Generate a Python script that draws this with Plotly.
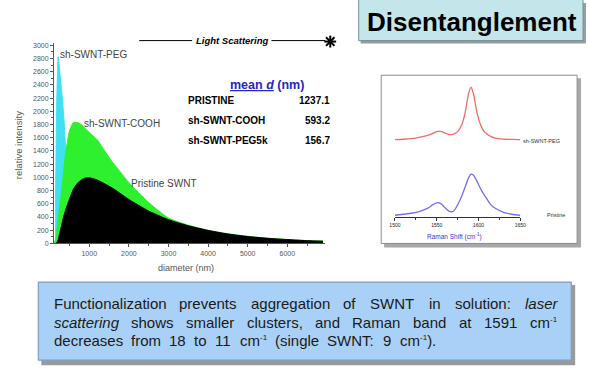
import re
import plotly.graph_objects as go

W, H = 589, 383

# ---------------- data: light scattering size distributions ----------------
peg_d = [100, 130, 150, 175, 200, 215, 240, 280, 320, 360, 400, 500, 700, 1000, 1500, 2000, 3000, 4000, 5000, 6000, 6900]
peg_i = [0, 0, 700, 2000, 2650, 2830, 2700, 2450, 2200, 1900, 1500, 1000, 600, 350, 200, 130, 60, 30, 15, 8, 5]

cooh_d = [100, 150, 200, 250, 300, 350, 400, 500, 600, 700, 800, 900, 1000, 1200, 1400, 1600, 1800, 2000,
          2500, 3000, 3500, 4000, 4500, 5000, 5500, 6000, 6500, 6900]
cooh_i = [0, 50, 300, 550, 800, 1070, 1350, 1700, 1830, 1830, 1800, 1740, 1680, 1570, 1390, 1220, 1070, 920,
          620, 385, 276, 200, 146, 108, 80, 60, 44, 36]

prist_d = [150, 200, 250, 300, 350, 400, 500, 600, 700, 800, 900, 1000, 1200, 1400, 1600, 1800, 2000,
           2500, 3000, 3500, 4000, 4500, 5000, 5500, 6000, 6500, 6900]
prist_i = [0, 30, 150, 270, 400, 500, 670, 820, 910, 960, 990, 995, 960, 900, 830, 750, 665,
           490, 360, 268, 197, 143, 105, 78, 58, 42, 34]

x_ticks = [1000, 2000, 3000, 4000, 5000, 6000]

# ---------------- data: Raman inset ----------------
raman_shift = [1500, 1510, 1520, 1530, 1540, 1545, 1550, 1553, 1556, 1560, 1565, 1570, 1575, 1580, 1584,
               1588, 1591, 1594, 1598, 1602, 1606, 1610, 1615, 1620, 1630, 1640, 1650]
raman_peg = [78, 78.3, 79, 80.5, 82.5, 84, 86, 86.5, 86, 84.5, 83, 83.5, 86, 93, 105,
             124, 131, 124, 106, 94, 87, 83.5, 81, 79.5, 78.5, 78.2, 78]
raman_pristine = [1.5, 2.5, 3.5, 5.5, 9, 12, 14, 14, 12.5, 9, 5.5, 5.5, 12, 21, 30,
                  39, 43, 42, 36, 29, 23, 18, 12, 8.5, 4.5, 2.5, 1.5]
raman_ticks = [1500, 1550, 1600, 1650]

# ---------------- table ----------------
table_names = ["PRISTINE", "sh-SWNT-COOH", "sh-SWNT-PEG5k"]
table_values = ["1237.1", "593.2", "156.7"]

CYAN = "#3fe0f2"
GREEN = "#2ef02e"
BLACK = "#000000"
RED = "#f26a6a"
BLUE = "#7070f0"


def px(x):
    return x / W


def py(y):
    return 1 - y / H


fig = go.Figure()
for xs, ys, col in [(peg_d, peg_i, CYAN), (cooh_d, cooh_i, GREEN), (prist_d, prist_i, BLACK)]:
    fig.add_trace(go.Scatter(x=xs, y=ys, mode="lines", fill="tozeroy", fillcolor=col,
                             line=dict(color=col, width=1, shape="spline", smoothing=0.6),
                             hoverinfo="skip", showlegend=False, xaxis="x", yaxis="y"))

for ys, col in [(raman_peg, RED), (raman_pristine, BLUE)]:
    fig.add_trace(go.Scatter(x=raman_shift, y=ys, mode="lines",
                             line=dict(color=col, width=1.3, shape="spline", smoothing=0.8),
                             hoverinfo="skip", showlegend=False, xaxis="x2", yaxis="y2"))

# ---------------- shapes ----------------
shapes = []


def rect(x0, y0, x1, y1, fill, line=None, lw=0):
    shapes.append(dict(type="rect", xref="paper", yref="paper", x0=px(x0), x1=px(x1), y0=py(y1), y1=py(y0),
                       fillcolor=fill, line=dict(color=line or fill, width=lw), layer="below"))


def seg(x0, y0, x1, y1, col="#000", lw=1):
    shapes.append(dict(type="line", xref="paper", yref="paper", x0=px(x0), x1=px(x1), y0=py(y0), y1=py(y1),
                       line=dict(color=col, width=lw), layer="above"))


# title box
rect(362, 2, 592, 43, "#8f9ea2")
rect(360, -2, 589, 40, "#c4e6eb", "#7c8f95", 1)
# Raman inset box
rect(386, 78, 587, 249, "#a8a8a8")
rect(383, 75, 583, 245, "#ffffff", "#8c8c8c", 1)
# bottom text box
rect(36, 287, 581, 368, "#9a9a9a")
rect(33, 284, 577, 363, "#a9d1f7", "#7f9dbd", 1.2)
# light scattering rule + asterisk
seg(136, 40, 190, 40)
seg(271, 40, 326, 40)
cx, cy, r = 331, 41, 6
seg(cx - r, cy, cx + r, cy, lw=2)
seg(cx, cy - r, cx, cy + r, lw=2)
seg(cx - r * 0.72, cy - r * 0.72, cx + r * 0.72, cy + r * 0.72, lw=2)
seg(cx - r * 0.72, cy + r * 0.72, cx + r * 0.72, cy - r * 0.72, lw=2)

# ---------------- annotations ----------------
ann = []


def text(x, y, t, size, color="#000", xa="left", ya="middle", angle=0, family="Liberation Sans, Arial, sans-serif"):
    ann.append(dict(x=px(x), y=py(y), xref="paper", yref="paper", text=t, showarrow=False,
                    xanchor=xa, yanchor=ya, textangle=angle, borderpad=0, borderwidth=0,
                    font=dict(size=size, color=color, family=family)))


text(476, 21, "<b>Disentanglement</b>", 26, "#000", xa="center")
text(231, 40, "<b><i>Light Scattering</i></b>", 9.5, "#000", xa="center")
text(55, 54, "sh-SWNT-PEG", 10, "#444")
text(80, 124, "sh-SWNT-COOH", 10, "#444")
text(128, 184, "Pristine SWNT", 10, "#444")
text(13, 146, "relative intensity", 9.5, "#555", xa="center", angle=-90)
text(184, 270, "diameter (nm)", 9, "#555", xa="center")

text(266, 85, "<b><u>mean <i>d</i></u> (nm)</b>", 12.5, "#2525c8", xa="center")
for i, (nm, v) in enumerate(zip(table_names, table_values)):
    yy = 101 + 20 * i
    text(186, yy, "<b>" + nm + "</b>", 10, "#000")
    text(331, yy, "<b>" + v + "</b>", 10, "#000", xa="right")

text(547, 141, "sh-SWNT-PEG", 5.5, "#333", xa="center")
text(561, 216, "Pristine", 5.5, "#333", xa="center")
text(458, 238, "Raman Shift (cm<sup>-1</sup>)", 6.5, "#3535d0", xa="center")

# justified paragraph, word by word
AW = {'a': 556, 'b': 556, 'c': 500, 'd': 556, 'e': 556, 'f': 278, 'g': 556, 'h': 556, 'i': 222, 'j': 222,
      'k': 500, 'l': 222, 'm': 833, 'n': 556, 'o': 556, 'p': 556, 'q': 556, 'r': 333, 's': 500, 't': 278,
      'u': 556, 'v': 500, 'w': 722, 'x': 500, 'y': 500, 'z': 500, 'F': 611, 'S': 667, 'W': 944, 'N': 722,
      'T': 611, 'R': 722, ' ': 278, '.': 278, ',': 278, ':': 278, '(': 333, ')': 333, '-': 333}
FS = 15
SUP = "<sup><span style='font-size:8px'>-1</span></sup>"


def word_width(w):
    total = 0.0
    parts = re.split(r"(<sup>.*?</sup>)", w)
    for p in parts:
        if p.startswith("<sup>"):
            total += 0.5 * (333 + 556)
        else:
            clean = re.sub(r"<.*?>", "", p)
            total += sum(AW.get(c, 556) for c in clean)
    return total * FS / 1000.0


lines = [
    (["Functionalization", "prevents", "aggregation", "of", "SWNT", "in", "solution:", "<i>laser</i>"], 306, True),
    (["<i>scattering</i>", "shows", "smaller", "clusters,", "and", "Raman", "band", "at", "1591",
      "cm" + SUP], 325, True),
    (["decreases", "from", "18", "to", "11", "cm" + SUP, "(single", "SWNT:", "9", "cm" + SUP + ")."], 344, False),
]
LEFT, RIGHT = 49, 562
for words, yc, just in lines:
    widths = [word_width(w) for w in words]
    if just:
        gap = (RIGHT - LEFT - sum(widths)) / (len(words) - 1)
    else:
        gap = 9.0
    xx = LEFT
    for w, wd in zip(words, widths):
        text(xx, yc + 8, w, FS, "#1a1a1a", ya="bottom")
        xx += wd + gap

fig.update_layout(
    width=W, height=H, margin=dict(l=0, r=0, t=0, b=0),
    paper_bgcolor="#ffffff", plot_bgcolor="rgba(0,0,0,0)",
    showlegend=False, shapes=shapes, annotations=ann,
    font=dict(family="Liberation Sans, Arial, sans-serif"),
    xaxis=dict(domain=[px(49), px(326)], range=[110, 6960], anchor="y", showline=True, linecolor="#555",
               linewidth=1, ticks="outside", ticklen=3, tickcolor="#555", tickvals=x_ticks,
               tickfont=dict(size=7, color="#555"), showgrid=False, zeroline=False,
               minor=dict(tickvals=[500, 1500, 2500, 3500, 4500, 5500, 6500], ticks="outside", ticklen=2,
                          tickcolor="#555")),
    yaxis=dict(domain=[py(245), py(42)], range=[0, 3040], anchor="x", showline=True, linecolor="#555",
               linewidth=1, ticks="outside", ticklen=3, tickcolor="#555", dtick=200, tick0=0,
               tickfont=dict(size=7, color="#555"), showgrid=False, zeroline=False,
               minor=dict(dtick=100, ticks="outside", ticklen=2, tickcolor="#555")),
    xaxis2=dict(domain=[px(397), px(525)], range=[1500, 1650], anchor="y2", showline=True, linecolor="#333",
                linewidth=1, ticks="outside", ticklen=3, tickcolor="#333", tickvals=raman_ticks,
                tickfont=dict(size=5, color="#222"), showgrid=False, zeroline=False,
                minor=dict(tickvals=[1525, 1575, 1625], ticks="outside", ticklen=2, tickcolor="#333")),
    yaxis2=dict(domain=[py(218), py(80)], range=[0, 138], anchor="x2", visible=False),
)

fig.write_html("out.html", config={"displayModeBar": False, "staticPlot": True},
               post_script="document.body.style.margin='0';document.body.style.overflow='hidden';")
